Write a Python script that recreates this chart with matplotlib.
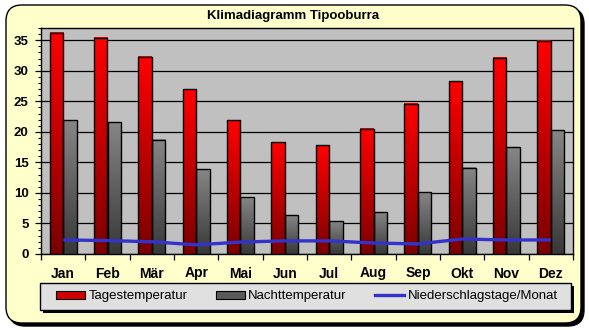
import numpy as np
import matplotlib
matplotlib.use("Agg")
import matplotlib.pyplot as plt
from matplotlib.patches import FancyBboxPatch, Rectangle, Patch
from matplotlib.lines import Line2D
from matplotlib.colors import LinearSegmentedColormap

# -------------------
# Data
# -------------------
months = ["Jan", "Feb", "Mär", "Apr", "Mai", "Jun", "Jul", "Aug", "Sep", "Okt", "Nov", "Dez"]
tag_temp = [36.2, 35.4, 32.3, 27.0, 21.9, 18.3, 17.8, 20.5, 24.6, 28.3, 32.1, 34.9]
nacht_temp = [21.9, 21.6, 18.7, 13.9, 9.3, 6.35, 5.4, 6.85, 10.1, 14.1, 17.5, 20.3]
regentage = [2.3, 2.2, 2.0, 1.5, 1.95, 2.15, 2.15, 1.8, 1.65, 2.45, 2.3, 2.3]

title = "Klimadiagramm Tipooburra"
labels = ["Tagestemperatur", "Nachttemperatur", "Niederschlagstage/Monat"]

plt.rcParams['font.family'] = ['Liberation Sans', 'DejaVu Sans']

W, H = 589, 330
fig = plt.figure(figsize=(W / 100, H / 100), dpi=100)
fig.patch.set_facecolor("white")

# -------------------
# Background panel (pixel coordinates)
# -------------------
bg = fig.add_axes([0, 0, 1, 1], zorder=-5)
bg.set_xlim(0, W)
bg.set_ylim(H, 0)
bg.axis("off")

def rbox(x0, y0, x1, y1, fc, ec, lw, rad):
    return FancyBboxPatch((x0 + rad, y0 + rad), (x1 - x0) - 2 * rad, (y1 - y0) - 2 * rad,
                          boxstyle="round,pad=%f" % rad, fc=fc, ec=ec, lw=lw)

bg.add_patch(rbox(9, 8, 584, 326, "black", "black", 1, 16))
bg.add_patch(rbox(6, 5, 581, 323, "#FFFFCC", "black", 1, 16))

# legend box
bg.add_patch(Rectangle((43, 286), 531, 27, fc="black", ec="black", lw=0))
bg.add_patch(Rectangle((40, 283), 531, 27, fc="#E0E0E0", ec="black", lw=1))

# -------------------
# Main axes
# -------------------
ax = fig.add_axes([41 / W, 1 - 254 / H, (573 - 41) / W, (254 - 28) / H])
ax.set_facecolor("#C0C0C0")

x = np.arange(len(months))
bw = 0.305

red_cmap = LinearSegmentedColormap.from_list("r", ["#7A0000", "#FF0000"])
gray_cmap = LinearSegmentedColormap.from_list("g", ["#383838", "#868686"])
grad = np.linspace(0, 1, 128).reshape(-1, 1)

def gradient_bars(xs, vals, cmap):
    bars = ax.bar(xs, vals, width=bw, align="edge", color="none",
                  edgecolor="black", linewidth=1, zorder=4)
    for b in bars:
        x0, h, w = b.get_x(), b.get_height(), b.get_width()
        ax.imshow(grad, extent=[x0, x0 + w, 0, h], origin="lower", cmap=cmap,
                  aspect="auto", zorder=3, interpolation="bilinear")
    return bars

gradient_bars(x - bw, tag_temp, red_cmap)
gradient_bars(x, nacht_temp, gray_cmap)

ax.plot(x, regentage, color="#3333CC", lw=2.4, zorder=5, solid_capstyle="butt")

ax.set_xlim(-0.5, len(months) - 0.5)
ax.set_ylim(0, 37)

ax.set_yticks(np.arange(0, 36, 5))
ax.set_yticks(np.arange(0, 38, 1), minor=True)
ax.set_xticks(x)
ax.set_xticklabels(months)
ax.set_xticks(np.arange(-0.5, len(months)), minor=True)

ax.yaxis.grid(True, which="major", color="black", lw=0.9)
ax.set_axisbelow(True)

ax.tick_params(axis="y", which="major", direction="out", length=4, width=0.9,
               labelsize=9.5, pad=5)
ax.tick_params(axis="y", which="minor", direction="out", length=2.2, width=0.8)
ax.tick_params(axis="x", which="major", length=0, labelsize=10, pad=9)
ax.tick_params(axis="x", which="minor", direction="out", length=4, width=0.9)
for lab in ax.get_xticklabels() + ax.get_yticklabels():
    lab.set_fontweight("bold")

for s in ax.spines.values():
    s.set_color("black")
    s.set_linewidth(1)

fig.text(0.498, 1 - 16 / H, title, ha="center", va="center",
         fontsize=9.5, fontweight="bold")

# -------------------
# Legend
# -------------------
handles = [Patch(facecolor="#D00000", edgecolor="black", lw=0.8),
           Patch(facecolor="#5A5A5A", edgecolor="black", lw=0.8),
           Line2D([], [], color="#3333CC", lw=2.4)]
fig.legend(handles, labels, loc="center", bbox_to_anchor=(0.521, 1 - 296.5 / H),
           ncol=3, frameon=False, fontsize=9.5, handlelength=2.2,
           handleheight=0.6, handletextpad=0.25, columnspacing=2.15)

fig.savefig("out.png", dpi=100)
